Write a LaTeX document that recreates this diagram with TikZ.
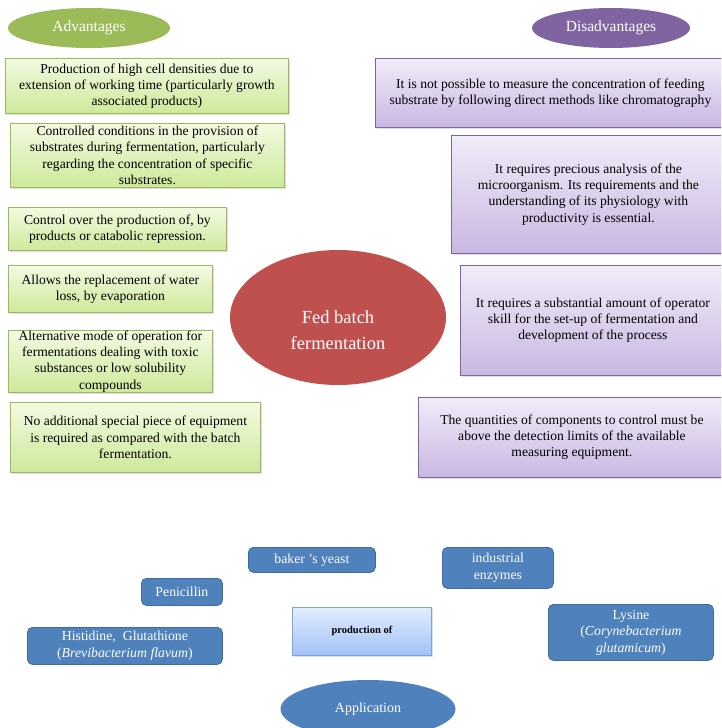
\documentclass[tikz,border=0pt]{standalone}
\usepackage{fontspec}
\setmainfont{Liberation Serif}
\usetikzlibrary{shapes.geometric,shadows}
\definecolor{advG}{HTML}{9BBB59}
\definecolor{gTop}{HTML}{F3FAE2}
\definecolor{gBot}{HTML}{CDE99A}
\definecolor{disP}{HTML}{8064A2}
\definecolor{pTop}{HTML}{F1ECF8}
\definecolor{pBot}{HTML}{C9B7E2}
\definecolor{fedR}{HTML}{C0504D}
\definecolor{appB}{HTML}{4F81BD}
\definecolor{appBD}{HTML}{3F6C9F}
\definecolor{prTop}{HTML}{E2ECFD}
\definecolor{prBot}{HTML}{A3C2F7}
\definecolor{prBD}{HTML}{7FA2D0}
\begin{document}
\begin{tikzpicture}[x=1pt,y=-1pt,
  boxbase/.style={anchor=north west, align=center, inner sep=0pt,
    drop shadow={opacity=0.25,shadow xshift=1.5pt,shadow yshift=-1.5pt}},
  gbox/.style={boxbase, draw=advG, line width=0.8pt, top color=gTop, bottom color=gBot,
    font=\fontsize{13.6}{16.2}\selectfont},
  pbox/.style={boxbase, draw=disP, line width=0.8pt, top color=pTop, bottom color=pBot,
    font=\fontsize{13.6}{16.2}\selectfont},
  bbox/.style={anchor=north west, align=center, inner sep=0pt, rounded corners=5pt,
    fill=appB, draw=appBD, line width=0.8pt, text=white,
    font=\fontsize{13.8}{16.5}\selectfont},
  hdr/.style={ellipse, inner sep=0pt, text=white, font=\fontsize{15.5}{18}\selectfont},
]
\useasboundingbox (0,0) rectangle (721,728);
\clip (0,0) rectangle (721,728);

% headers
\node[hdr, fill=advG, minimum width=162pt, minimum height=40pt] (adv) at (89,28) {Advantages};
\node[hdr, fill=disP, minimum width=158pt, minimum height=40pt] (dis) at (611,28) {Disadvantages};

% advantages
\node[gbox, minimum width=283pt, minimum height=55pt] (g1) at (5,58)
  {Production of high cell densities due to\\extension of working time (particularly growth\\associated products)};
\node[gbox, minimum width=274pt, minimum height=64pt] (g2) at (10,123)
  {Controlled conditions in the provision of\\substrates during fermentation, particularly\\regarding the concentration of specific\\substrates.};
\node[gbox, minimum width=218pt, minimum height=43pt] (g3) at (8,207)
  {Control over the production of, by\\products or catabolic repression.};
\node[gbox, minimum width=204pt, minimum height=47pt] (g4) at (8,265)
  {Allows the replacement of water\\loss, by evaporation};
\node[gbox, minimum width=204pt, minimum height=62pt] (g5) at (8,330)
  {Alternative mode of operation for\\fermentations dealing with toxic\\substances or low solubility\\compounds};
\node[gbox, minimum width=250pt, minimum height=70pt] (g6) at (10,402)
  {No additional special piece of equipment\\is required as compared with the batch\\fermentation.};

% disadvantages
\node[pbox, minimum width=350pt, minimum height=69pt] (p1) at (375,58)
  {It is not possible to measure the concentration of feeding\\substrate by following direct methods like chromatography};
\node[pbox, minimum width=274pt, minimum height=118pt] (p2) at (451,135)
  {It requires precious analysis of the\\microorganism. Its requirements and the\\understanding of its physiology with\\productivity is essential.};
\node[pbox, minimum width=265pt, minimum height=110pt] (p3) at (460,265)
  {It requires a substantial amount of operator\\skill for the set-up of fermentation and\\development of the process};
\node[pbox, minimum width=307pt, minimum height=80pt] (p4) at (418,397)
  {The quantities of components to control must be\\above the detection limits of the available\\measuring equipment.};

% centre
\node[ellipse, fill=fedR, minimum width=216pt, minimum height=135pt, inner sep=0pt] (fed) at (338,317.5) {};
\node[align=center, text=white, font=\fontsize{18.5}{26}\selectfont, inner sep=0pt] (fedtxt) at (338,330)
  {Fed batch\\fermentation};

% application
\node[bbox, minimum width=127pt, minimum height=25pt] (yeast) at (248,547) {baker\ ’s\ yeast};
\node[bbox, minimum width=81pt, minimum height=27pt] (pen) at (141,578) {Penicillin};
\node[bbox, minimum width=195pt, minimum height=37pt] (his) at (27,627)
  {Histidine,\ \ Glutathione\\(\textit{Brevibacterium flavum})};
\node[bbox, minimum width=111pt, minimum height=41pt] (enz) at (442,547) {industrial\\enzymes};
\node[bbox, minimum width=165pt, minimum height=56pt] (lys) at (548,604)
  {Lysine\\(\textit{Corynebacterium}\\\textit{glutamicum})};
\node[anchor=north west, inner sep=0pt, minimum width=139pt, minimum height=48pt,
  top color=prTop, bottom color=prBot, draw=prBD, line width=0.8pt,
  drop shadow={opacity=0.25,shadow xshift=1.5pt,shadow yshift=-1.5pt},
  font=\fontsize{10.5}{12}\selectfont\bfseries] (prod) at (292,607) {production of};
\node[ellipse, fill=appB, text=white, minimum width=175pt, minimum height=58pt, inner sep=0pt,
  font=\fontsize{14}{16}\selectfont] (app) at (368,709) {Application};
\end{tikzpicture}
\end{document}
